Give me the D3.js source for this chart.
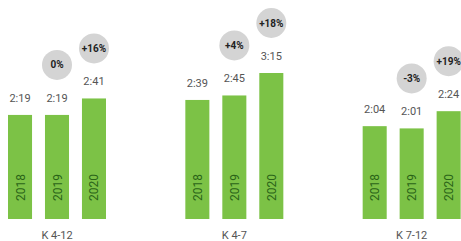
<!DOCTYPE html>
<html>
<head>
<meta charset="utf-8">
<script src="https://cdn.jsdelivr.net/npm/d3@7"></script>
<style>
  body { margin: 0; background: #fff; }
  svg { display: block; font-family: Roboto, "Noto Sans", sans-serif; }
</style>
</head>
<body>
<svg id="chart" width="461" height="241"></svg>
<script>
// groups and years
const groups = ["K 4-12", "K 4-7", "K 7-12"];
const years = ["2018", "2019", "2020"];

// average time in minutes, one array per group
const k412 = [139, 139, 161];
const k47 = [159, 165, 195];
const k712 = [124, 121, 144];

// labels shown above each bar
const timeLabels = [
    ["2:19", "2:19", "2:41"],
    ["2:39", "2:45", "3:15"],
    ["2:04", "2:01", "2:24"],
];

// change vs. previous year (no bubble for the first year)
const changes = [
    [null, "0%", "+16%"],
    [null, "+4%", "+18%"],
    [null, "-3%", "+19%"],
];

const values = [k412, k47, k712];

const svg = d3.select("#chart");
const base = 219;

const x0 = d3.scaleBand()
    .domain(groups)
    .range([8, 540]);

const x1 = d3.scaleBand()
    .domain(years)
    .range([0, 98])
    .paddingInner(0.35);

const y = d3.scaleLinear()
    .domain([0, 195])
    .range([base, 73]);

const g = svg.selectAll("g.group")
    .data(groups)
    .join("g")
    .attr("class", "group")
    .attr("transform", d => `translate(${x0(d)},0)`);

g.each(function(grp, gi) {
    const sel = d3.select(this);
    const rows = years.map((yr, i) => ({
        year: yr,
        value: values[gi][i],
        label: timeLabels[gi][i],
        change: changes[gi][i],
    }));

    // bars
    sel.selectAll("rect")
        .data(rows)
        .join("rect")
        .attr("x", d => x1(d.year))
        .attr("y", d => y(d.value))
        .attr("width", x1.bandwidth())
        .attr("height", d => base - y(d.value))
        .attr("fill", "#7cc246");

    // year inside bar
    sel.selectAll("text.year")
        .data(rows)
        .join("text")
        .attr("class", "year")
        .attr("transform", d => `translate(${x1(d.year) + x1.bandwidth() / 2 + 4.5},${base - 18}) rotate(-90)`)
        .attr("font-size", 12)
        .attr("fill", "#2a6418")
        .text(d => d.year);

    // value label
    sel.selectAll("text.val")
        .data(rows)
        .join("text")
        .attr("class", "val")
        .attr("x", d => x1(d.year) + x1.bandwidth() / 2)
        .attr("y", d => y(d.value) - 13)
        .attr("text-anchor", "middle")
        .attr("font-size", 11)
        .attr("fill", "#555")
        .text(d => d.label);

    // change bubbles
    const b = sel.selectAll("g.bubble")
        .data(rows.filter(d => d.change))
        .join("g")
        .attr("class", "bubble")
        .attr("transform", d => `translate(${x1(d.year) + x1.bandwidth() / 2},${y(d.value) - 50})`);

    b.append("circle")
        .attr("r", 15)
        .attr("fill", "#d4d4d4");

    b.append("text")
        .attr("text-anchor", "middle")
        .attr("dy", "0.35em")
        .attr("font-size", 10)
        .attr("font-weight", "bold")
        .attr("fill", "#222")
        .text(d => d.change);

    // group label
    sel.append("text")
        .attr("x", 49)
        .attr("y", 239)
        .attr("text-anchor", "middle")
        .attr("font-size", 11)
        .attr("fill", "#555")
        .text(grp);
});
</script>
</body>
</html>
